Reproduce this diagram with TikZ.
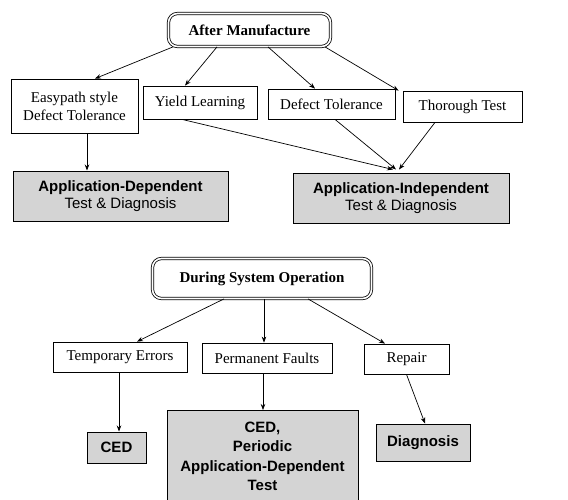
\documentclass[tikz,border=0pt]{standalone}
\usepackage{fontspec}
\setmainfont{Liberation Serif}
\setsansfont{Liberation Sans}
\usetikzlibrary{positioning, arrows.meta}
\definecolor{cinzafundo}{HTML}{D4D4D4}

\begin{document}
\begin{tikzpicture}[
    x=1pt, y=-1pt,
    titulo/.style={
        rectangle, rounded corners=9pt,
        draw, double, double distance=1.6pt, line width=0.8pt,
        font=\fontsize{15}{17}\selectfont\bfseries,
        inner sep=0pt
    },
    caixa/.style={
        rectangle, draw, line width=0.8pt,
        align=center, font=\fontsize{15}{18}\selectfont,
        inner sep=0pt
    },
    cinza/.style={
        rectangle, draw, line width=1pt, fill=cinzafundo,
        align=center, font=\fontsize{15}{17}\selectfont\sffamily,
        inner sep=0pt
    },
    seta/.style={-{Stealth[length=6pt,width=4.5pt]}, line width=0.7pt}
]
\useasboundingbox (0,0) rectangle (568,499);
\clip (0,0) rectangle (568,499);

% after manufacture
\node[titulo, minimum width=162pt, minimum height=33pt] (am) at (249.5,30) {After Manufacture};
\node[caixa, minimum width=127pt, minimum height=54pt] (easy) at (74.5,106) {Easypath style\\Defect Tolerance};
\node[caixa, minimum width=114pt, minimum height=33pt] (yield) at (200,102.5) {Yield Learning};
\node[caixa, minimum width=127pt, minimum height=30pt] (deftol) at (331.5,104) {Defect Tolerance};
\node[caixa, minimum width=119pt, minimum height=31pt] (thor) at (462.5,106.5) {Thorough Test};
\node[cinza, minimum width=215pt, minimum height=50pt] (appdep) at (120.5,196) {\textbf{Application-Dependent}\\Test \& Diagnosis};
\node[cinza, minimum width=216pt, minimum height=50pt] (appind) at (401,198) {\textbf{Application-Independent}\\Test \& Diagnosis};

\draw[seta] ([xshift=-76.5pt]am.south) -- ([xshift=20.5pt]easy.north);
\draw[seta] ([xshift=-32.5pt]am.south) -- ([xshift=-15pt]yield.north);
\draw[seta] ([xshift=18.5pt]am.south) -- ([xshift=-16.5pt]deftol.north);
\draw[seta] ([xshift=75.5pt]am.south) -- ([xshift=-4pt]thor.north west);
\draw[seta] ([xshift=12.5pt]easy.south) -- ([xshift=12.5pt]easy.south |- appdep.north);
\draw[seta] ([xshift=-18pt]yield.south) -- ([xshift=-8pt,yshift=3pt]appind.north);
\draw[seta] ([xshift=3.5pt]deftol.south) -- ([xshift=-5pt,yshift=3pt]appind.north);
\draw[seta] ([xshift=-27.5pt]thor.south) -- ([xshift=-2pt,yshift=3pt]appind.north);

% during system operation
\node[titulo, minimum width=219pt, minimum height=40pt] (dso) at (262,278.5) {During System Operation};
\node[caixa, minimum width=134pt, minimum height=30pt] (temp) at (120,357) {Temporary Errors};
\node[caixa, minimum width=130pt, minimum height=30pt] (perm) at (267,358) {Permanent Faults};
\node[caixa, minimum width=85pt, minimum height=30pt] (repair) at (406.5,359) {Repair};
\node[cinza, minimum width=59pt, minimum height=31pt, font=\fontsize{15}{17}\selectfont\sffamily\bfseries] (ced) at (116.5,447.5) {CED};
\node[cinza, minimum width=191pt, minimum height=92pt, anchor=north, font=\fontsize{15}{19.5}\selectfont\sffamily\bfseries] (perio) at (262.5,410) {CED,\\Periodic\\Application-Dependent\\Test};
\node[cinza, minimum width=94pt, minimum height=37pt, font=\fontsize{15}{17}\selectfont\sffamily\bfseries] (diag) at (423,442.5) {Diagnosis};

\draw[seta] ([xshift=-38pt]dso.south) -- ([xshift=17pt]temp.north);
\draw[seta] ([xshift=-3pt]perm.north |- dso.south) -- ([xshift=-3pt]perm.north);
\draw[seta] ([xshift=46pt]dso.south) -- ([xshift=-21.5pt]repair.north);
\draw[seta] ([xshift=-1pt]temp.south) -- ([xshift=-1pt]temp.south |- ced.north);
\draw[seta] ([xshift=-4pt]perm.south) -- ([xshift=-4pt]perm.south |- perio.north);
\draw[seta] (repair.south) -- ([xshift=2pt]diag.north);
\end{tikzpicture}
\end{document}
